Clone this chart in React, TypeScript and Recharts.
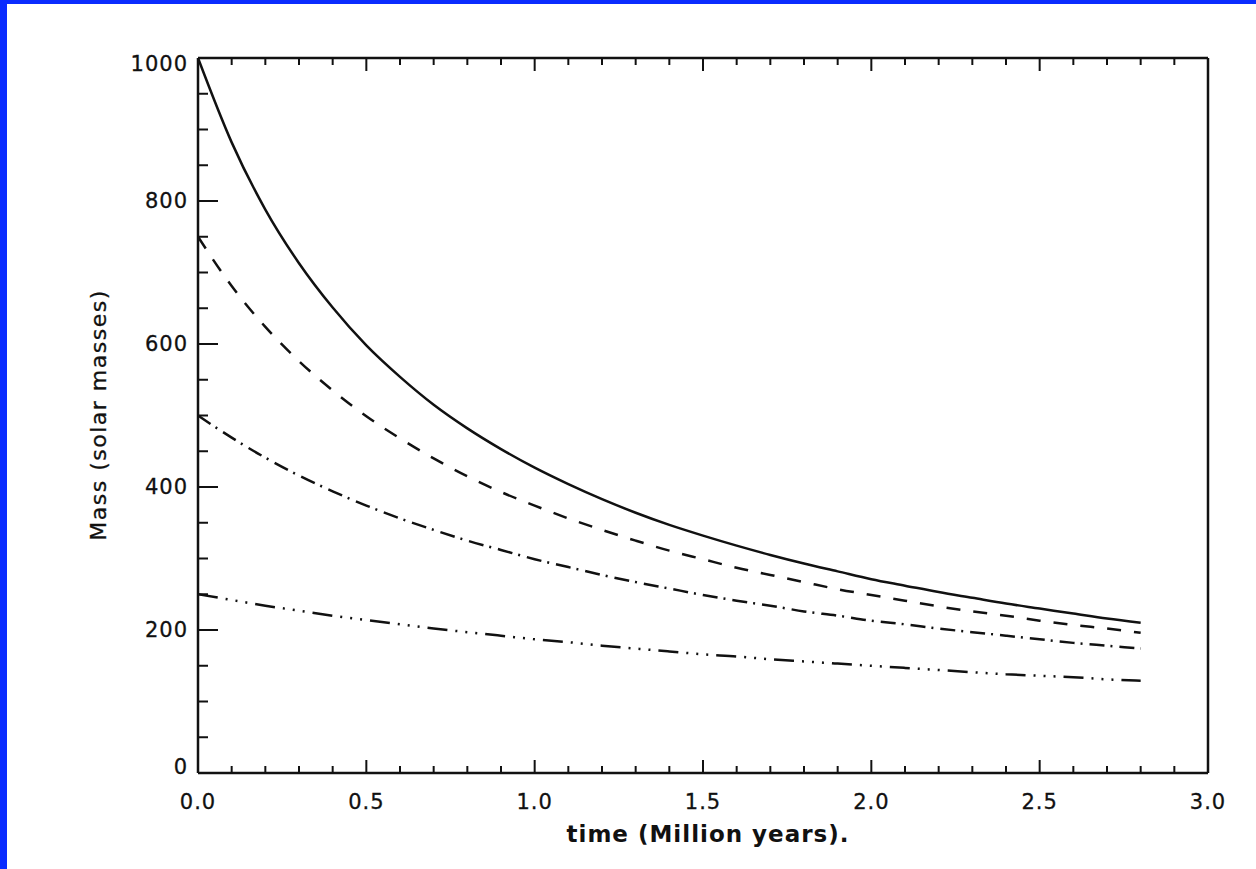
import { LineChart, Line, XAxis, YAxis, Label } from "recharts"

// time in Million years
const times = [
  0, 0.1, 0.2, 0.3, 0.4, 0.5, 0.6, 0.7, 0.8, 0.9, 1.0, 1.1, 1.2, 1.3, 1.4,
  1.5, 1.6, 1.7, 1.8, 1.9, 2.0, 2.1, 2.2, 2.3, 2.4, 2.5, 2.6, 2.7, 2.8,
]

// mass in solar masses, one array per starting mass
const mass1000 = [
  1000, 882, 788, 713, 651, 598, 554, 515, 482, 453, 427, 404, 383, 364, 347,
  332, 318, 305, 293, 282, 271, 262, 253, 245, 237, 230, 223, 216, 210,
]
const mass750 = [
  750, 681, 624, 576, 535, 499, 468, 440, 415, 393, 374, 356, 340, 325, 311,
  299, 287, 277, 267, 257, 249, 241, 233, 226, 220, 213, 207, 202, 196,
]
const mass500 = [
  500, 469, 441, 416, 394, 374, 356, 340, 325, 312, 299, 288, 277, 267, 258,
  249, 241, 234, 226, 220, 213, 208, 202, 197, 192, 187, 182, 178, 174,
]
const mass250 = [
  250, 242, 234, 227, 220, 214, 208, 202, 197, 192, 187, 183, 178, 174, 170,
  166, 163, 159, 156, 153, 150, 147, 144, 141, 138, 136, 134, 131, 129,
]

const xTicks = [
  0, 0.1, 0.2, 0.3, 0.4, 0.5, 0.6, 0.7, 0.8, 0.9, 1.0, 1.1, 1.2, 1.3, 1.4, 1.5,
  1.6, 1.7, 1.8, 1.9, 2.0, 2.1, 2.2, 2.3, 2.4, 2.5, 2.6, 2.7, 2.8, 2.9, 3.0,
]
const yTicks = [
  0, 50, 100, 150, 200, 250, 300, 350, 400, 450, 500, 550, 600, 650, 700, 750,
  800, 850, 900, 950, 1000,
]

const data = times.map((t, i) => ({
  t,
  m1000: mass1000[i],
  m750: mass750[i],
  m500: mass500[i],
  m250: mass250[i],
}))

const FONT = "'DejaVu Sans', sans-serif"
const INK = "#111"

const isMajorX = (v: number) => Math.round(v * 10) % 5 === 0
const isMajorY = (v: number) => Math.round(v) % 200 === 0

const BottomTick = ({ x, y, payload }: any) => {
  const major = isMajorX(payload.value)
  return (
    <g>
      <line x1={x} x2={x} y1={y} y2={y - (major ? 13 : 7)} stroke={INK} strokeWidth={2} />
      {major && (
        <text x={x} y={y + 29} textAnchor="middle" dominantBaseline="central"
          fontFamily={FONT} fontSize={21} letterSpacing={1} fill={INK}
          stroke={INK} strokeWidth={0.3}>
          {payload.value.toFixed(1)}
        </text>
      )}
    </g>
  )
}

const TopTick = ({ x, y, payload }: any) => {
  const major = isMajorX(payload.value)
  return <line x1={x} x2={x} y1={y} y2={y + (major ? 13 : 7)} stroke={INK} strokeWidth={2} />
}

const LeftTick = ({ x, y, payload }: any) => {
  const v = payload.value
  const major = isMajorY(v)
  let dy = 0
  if (v === 0) dy = -6
  if (v === 1000) dy = 6
  return (
    <g>
      <line x1={x} x2={x + (major ? 20 : 10)} y1={y} y2={y} stroke={INK} strokeWidth={2} />
      {major && (
        <text x={x - 10} y={y + dy} textAnchor="end" dominantBaseline="central"
          fontFamily={FONT} fontSize={21} letterSpacing={1} fill={INK}
          stroke={INK} strokeWidth={0.3}>
          {v}
        </text>
      )}
    </g>
  )
}

const RightTick = ({ x, y, payload }: any) => {
  const major = isMajorY(payload.value)
  return <line x1={x} x2={x - (major ? 18 : 10)} y1={y} y2={y} stroke={INK} strokeWidth={2} />
}

export default function App() {
  return (
    <div style={{ position: "absolute", left: 0, top: 0, width: 1256, height: 869, background: "#fff", overflow: "hidden" }}>
      <div style={{ position: "absolute", left: 0, top: 0, width: 1256, height: 4, background: "#0a2cff" }} />
      <div style={{ position: "absolute", left: 0, top: 0, width: 7, height: 869, background: "#0a2cff" }} />
      <div style={{ position: "absolute", left: 0, top: 0 }}>
        <LineChart width={1256} height={869} data={data}
          margin={{ top: 57, right: 47, bottom: 36, left: 118 }}>

          <XAxis dataKey="t" type="number" domain={[0, 3]} ticks={xTicks} interval={0}
            tickSize={0} tickMargin={0} tick={<BottomTick />} height={60}
            axisLine={{ stroke: INK, strokeWidth: 2.5 }}>
            <Label content={() => (
              <text x={708} y={834} textAnchor="middle" dominantBaseline="central"
                fontFamily={FONT} fontWeight="bold" fontSize={23} letterSpacing={1} fill={INK}>
                time (Million years).
              </text>
            )} />
          </XAxis>
          <XAxis xAxisId="top" orientation="top" dataKey="t" type="number" domain={[0, 3]}
            ticks={xTicks} interval={0} tickSize={0} tickMargin={0} tick={<TopTick />} height={1}
            axisLine={{ stroke: INK, strokeWidth: 2.5 }} />

          <YAxis type="number" domain={[0, 1000]} ticks={yTicks} interval={0}
            tickSize={0} tickMargin={0} tick={<LeftTick />} width={80}
            axisLine={{ stroke: INK, strokeWidth: 2.5 }}>
            <Label content={() => (
              <text x={98} y={415} transform="rotate(-90 98 415)" textAnchor="middle"
                dominantBaseline="central" fontFamily={FONT} fontSize={22}
                letterSpacing={1.5} fill={INK} stroke={INK} strokeWidth={0.3}>
                Mass (solar masses)
              </text>
            )} />
          </YAxis>
          <YAxis yAxisId="right" orientation="right" type="number" domain={[0, 1000]}
            ticks={yTicks} interval={0} tickSize={0} tickMargin={0} tick={<RightTick />} width={1}
            axisLine={{ stroke: INK, strokeWidth: 2.5 }} />

          <Line dataKey="m1000" type="monotone" stroke={INK} strokeWidth={2.5} dot={false} isAnimationActive={false} />
          <Line dataKey="m750" type="monotone" stroke={INK} strokeWidth={2.5} strokeDasharray="14 13" dot={false} isAnimationActive={false} />
          <Line dataKey="m500" type="monotone" stroke={INK} strokeWidth={2.5} strokeDasharray="15 6 2 7" dot={false} isAnimationActive={false} />
          <Line dataKey="m250" type="monotone" stroke={INK} strokeWidth={2.5} strokeDasharray="20 8 2 8 2 8 2 8" dot={false} isAnimationActive={false} />
        </LineChart>
      </div>
    </div>
  )
}
